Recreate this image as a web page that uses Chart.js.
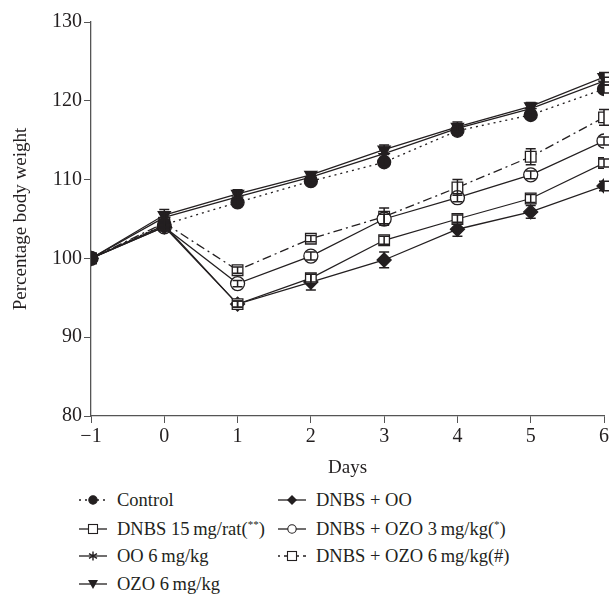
<!DOCTYPE html>
<html>
<head>
<meta charset="utf-8">
<script src="https://cdn.jsdelivr.net/npm/chart.js@4.4.1/dist/chart.umd.min.js"></script>
<style>
  html, body { margin: 0; padding: 0; background: #fff; }
  #wrap { position: relative; width: 613px; height: 594px; font-family: "Liberation Serif", "DejaVu Serif", serif; color: #231f20; }
  #cwrap { position: absolute; left: 0; top: 0; width: 613px; height: 480px; }
  #legend { position: absolute; left: 0; top: 488px; width: 613px; height: 106px; }
  .item { position: absolute; display: flex; align-items: center; font-size: 18.5px; white-space: nowrap; height: 24px; }
  .item svg { margin-right: 10px; }
</style>
</head>
<body>
<div id="wrap">
  <div id="cwrap"><canvas id="c" width="613" height="480"></canvas></div>
  <div id="legend"></div>
</div>
<script>
// ---- data ----
const days = [-1, 0, 1, 2, 3, 4, 5, 6];
const xTickLabels = ["\u22121", "0", "1", "2", "3", "4", "5", "6"];
const yTickValues = [80, 90, 100, 110, 120, 130];

const seriesNames = [
  "Control",
  "DNBS 15\u2009mg/rat(**)",
  "OO 6\u2009mg/kg",
  "OZO 6\u2009mg/kg",
  "DNBS + OO",
  "DNBS + OZO 3\u2009mg/kg(*)",
  "DNBS + OZO 6\u2009mg/kg(#)"
];

const control   = [100, 104.3, 107.1, 109.8, 112.2, 116.2, 118.2, 121.5];
const dnbs      = [100, 104.2, 94.2,  97.5,  102.3, 105.0, 107.6, 112.1];
const oo        = [100, 105.2, 107.8, 110.3, 113.3, 116.5, 119.0, 122.5];
const ozo       = [100, 105.5, 108.2, 110.6, 113.8, 116.7, 119.3, 123.0];
const dnbsOO    = [100, 104.0, 94.2,  97.0,  99.8,  103.7, 105.9, 109.2];
const dnbsOZO3  = [100, 104.0, 96.8,  100.3, 105.0, 107.7, 110.6, 114.9];
const dnbsOZO6  = [100, 104.5, 98.5,  102.5, 105.3, 109.0, 112.9, 117.9];

const controlErr  = [0, 0.5, 0.4, 0.4, 0.5, 0.5, 0.4, 0.5];
const dnbsErr     = [0, 0.5, 0.4, 0.5, 0.5, 0.5, 0.5, 0.5];
const ooErr       = [0, 0.5, 0.4, 0.4, 0.5, 0.5, 0.5, 0.5];
const ozoErr      = [0, 0.7, 0.5, 0.4, 0.6, 0.6, 0.5, 0.6];
const dnbsOOErr   = [0, 0.5, 0.4, 1.0, 1.0, 0.9, 0.8, 0.6];
const dnbsOZO3Err = [0, 0.5, 0.4, 0.5, 0.6, 0.5, 0.5, 0.5];
const dnbsOZO6Err = [0, 0.5, 0.4, 0.4, 1.1, 1.0, 1.0, 1.0];

// ---- build ----
const ink = "#231f20";
const toXY = (vals) => vals.map((v, i) => ({ x: days[i], y: v }));

const styles = [
  { vals: control,  err: controlErr,  pointStyle: "circle",   radius: 6.5, fill: true,  dash: [2, 4],        rot: 0 },
  { vals: dnbs,     err: dnbsErr,     pointStyle: "rect",     radius: 7.5, fill: false, dash: [],            rot: 0 },
  { vals: oo,       err: ooErr,       pointStyle: "star",     radius: 6,   fill: true,  dash: [],            rot: 0 },
  { vals: ozo,      err: ozoErr,      pointStyle: "triangle", radius: 7,   fill: true,  dash: [],            rot: 180 },
  { vals: dnbsOO,   err: dnbsOOErr,   pointStyle: "rectRot",  radius: 7,   fill: true,  dash: [],            rot: 0 },
  { vals: dnbsOZO3, err: dnbsOZO3Err, pointStyle: "circle",   radius: 7,   fill: false, dash: [],            rot: 0 },
  { vals: dnbsOZO6, err: dnbsOZO6Err, pointStyle: "rect",     radius: 7.5, fill: false, dash: [2, 4, 9, 4],  rot: 0 }
];

const datasets = styles.map((s, i) => ({
  label: seriesNames[i],
  data: toXY(s.vals),
  errors: s.err,
  borderColor: ink,
  borderWidth: 1.3,
  borderDash: s.dash,
  pointStyle: s.pointStyle,
  pointRadius: s.radius,
  pointHoverRadius: s.radius,
  pointRotation: s.rot,
  pointBackgroundColor: s.fill ? ink : "#fff",
  pointBorderColor: ink,
  pointBorderWidth: 1.3,
  tension: 0,
  fill: false,
  order: i
}));

const errorBars = {
  id: "errorBars",
  afterDatasetsDraw(chart) {
    const ctx = chart.ctx;
    const xs = chart.scales.x, ys = chart.scales.y;
    ctx.save();
    ctx.strokeStyle = ink;
    ctx.lineWidth = 1.5;
    chart.data.datasets.forEach((ds) => {
      ds.data.forEach((p, i) => {
        const e = ds.errors[i];
        if (!e) return;
        const px = xs.getPixelForValue(p.x);
        const top = ys.getPixelForValue(p.y + e);
        const bot = ys.getPixelForValue(p.y - e);
        ctx.beginPath();
        ctx.moveTo(px, top); ctx.lineTo(px, bot);
        ctx.moveTo(px - 5, top); ctx.lineTo(px + 5, top);
        ctx.moveTo(px - 5, bot); ctx.lineTo(px + 5, bot);
        ctx.stroke();
      });
    });
    ctx.restore();
  }
};

const fam = "'Liberation Serif', 'DejaVu Serif', serif";
const tickFont = { family: fam, size: 20 };
const titleFont = { family: fam, size: 19 };

new Chart(document.getElementById("c"), {
  type: "line",
  data: { datasets },
  options: {
    responsive: false,
    animation: false,
    devicePixelRatio: 1,
    layout: { padding: { left: 0, right: 9, top: 22, bottom: 0 } },
    plugins: { legend: { display: false }, tooltip: { enabled: false } },
    scales: {
      x: {
        type: "linear",
        min: -1, max: 6,
        afterBuildTicks: (axis) => { axis.ticks = days.map(v => ({ value: v })); },
        afterFit: (axis) => { axis.height = 64; },
        ticks: {
          color: ink, font: tickFont, padding: 2, maxRotation: 0,
          callback: (v) => xTickLabels[days.indexOf(v)]
        },
        grid: { drawOnChartArea: false, drawTicks: true, tickLength: 7, color: "#555" },
        border: { color: "#555", width: 1.3 },
        title: { display: true, text: "Days", color: ink, font: titleFont, padding: { top: 2, bottom: 1 } }
      },
      y: {
        min: 80, max: 130,
        afterBuildTicks: (axis) => { axis.ticks = yTickValues.map(v => ({ value: v })); },
        afterFit: (axis) => { axis.width = 91; },
        ticks: { color: ink, font: tickFont, padding: 2 },
        grid: { drawOnChartArea: false, drawTicks: true, tickLength: 7, color: "#555" },
        border: { color: "#555", width: 1.3 },
        title: { display: true, text: "Percentage body weight", color: ink, font: titleFont, padding: { top: 10, bottom: 0 } }
      }
    }
  },
  plugins: [errorBars]
});

// ---- HTML legend ----
function markerSVG(i) {
  const s = styles[i];
  const dash = s.dash.length ? `stroke-dasharray="${s.dash.join(' ')}"` : "";
  let m = "";
  const f = s.fill ? ink : "#fff";
  const cx = 14, cy = 8;
  switch (s.pointStyle) {
    case "circle": m = `<circle cx="${cx}" cy="${cy}" r="4.2" fill="${f}" stroke="${ink}" stroke-width="1.1"/>`; break;
    case "rect": m = `<rect x="${cx-4.5}" y="${cy-4.5}" width="9" height="9" fill="#fff" stroke="${ink}" stroke-width="1.1"/>`; break;
    case "star": m = `<path d="M${cx} ${cy-4.5}V${cy+4.5}M${cx-4} ${cy-2.3}L${cx+4} ${cy+2.3}M${cx-4} ${cy+2.3}L${cx+4} ${cy-2.3}" stroke="${ink}" stroke-width="1.4"/>`; break;
    case "triangle": m = `<path d="M${cx-5} ${cy-4}H${cx+5}L${cx} ${cy+5}Z" fill="${ink}"/>`; break;
    case "rectRot": m = `<path d="M${cx} ${cy-5}L${cx+5} ${cy}L${cx} ${cy+5}L${cx-5} ${cy}Z" fill="${ink}"/>`; break;
  }
  return `<svg width="28" height="16" viewBox="0 0 28 16"><line x1="0" y1="${cy}" x2="28" y2="${cy}" stroke="${ink}" stroke-width="1.3" ${dash}/>${m}</svg>`;
}
const legendPos = [
  [79, 0], [79, 29], [79, 56], [79, 84],
  [278, 0], [278, 29], [278, 56]
];
const lg = document.getElementById("legend");
seriesNames.forEach((name, i) => {
  const d = document.createElement("div");
  d.className = "item";
  d.style.left = legendPos[i][0] + "px";
  d.style.top = legendPos[i][1] + "px";
  const txt = name.replace(/\(([*#]+)\)/, (m, g) => g === "#" ? "(#)" : `(<sup style="font-size:11px">${g}</sup>)`);
  d.innerHTML = markerSVG(i) + `<span>${txt}</span>`;
  lg.appendChild(d);
});
</script>
</body>
</html>
